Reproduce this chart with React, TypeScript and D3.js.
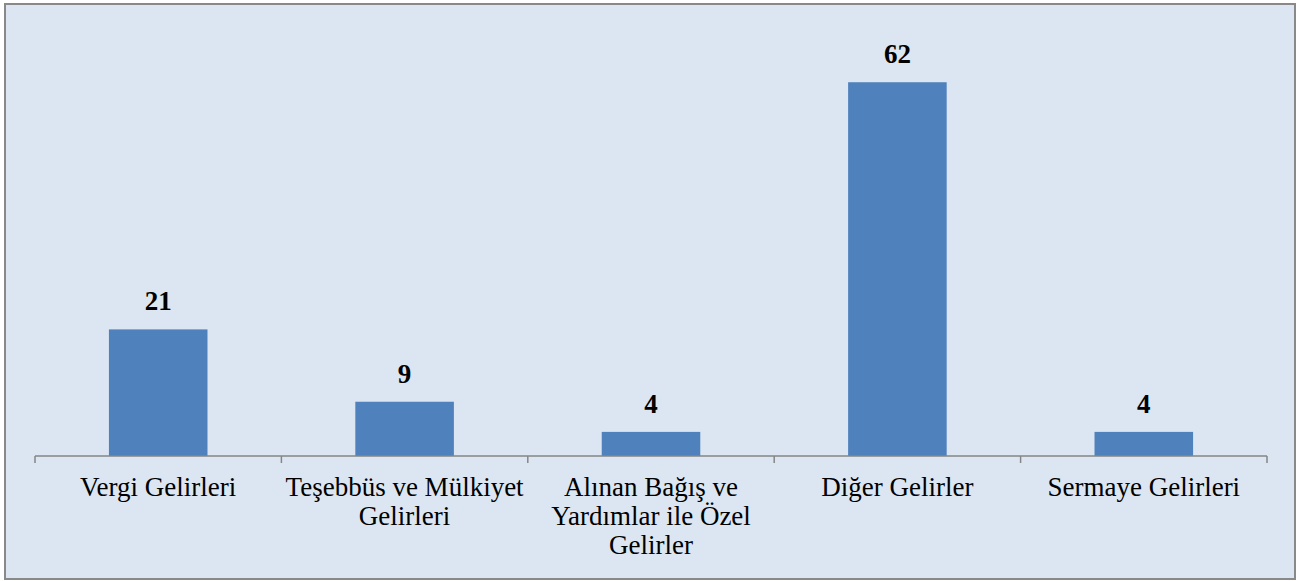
import React from "react";
import * as d3 from "d3";

const categories = [
  "Vergi Gelirleri",
  "Teşebbüs ve Mülkiyet Gelirleri",
  "Alınan Bağış ve Yardımlar ile Özel Gelirler",
  "Diğer Gelirler",
  "Sermaye Gelirleri",
];
const values = [21, 9, 4, 62, 4];

const W = 1297;
const H = 581;
const FONT = "Liberation Serif";
const FS = 27;

const wrapText = (text: string, maxWidth: number) => {
  const ctx = document.createElement("canvas").getContext("2d")!;
  ctx.font = `${FS}px "${FONT}"`;
  const lines: string[] = [];
  let cur = "";
  text.split(" ").forEach((w) => {
    const test = cur ? cur + " " + w : w;
    if (ctx.measureText(test).width > maxWidth && cur) {
      lines.push(cur);
      cur = w;
    } else {
      cur = test;
    }
  });
  if (cur) lines.push(cur);
  return lines;
};

const left = 35;
const right = 1267;
const baseY = 456;

const App = () => {
  const x = d3
    .scaleBand()
    .domain(categories)
    .range([left, right])
    .paddingInner(0.6)
    .paddingOuter(0.3);
  // full-width bands for ticks and label centres
  const xTick = d3.scaleBand().domain(categories).range([left, right]);
  const y = d3.scaleLinear().domain([0, 70]).range([baseY, 34]);

  const tickXs = categories.map((c) => xTick(c)!).concat([right]);

  return (
    <div style={{ position: "absolute", left: 0, top: 0 }}>
      <svg width={W} height={H} style={{ display: "block" }}>
        <rect x={5} y={4} width={1290} height={575} fill="#DCE6F2" stroke="#898989" strokeWidth={2} />
        {values.map((v, i) => (
          <rect
            key={categories[i]}
            x={x(categories[i])}
            y={y(v)}
            width={x.bandwidth()}
            height={baseY - y(v)}
            fill="#4F81BD"
          />
        ))}
        <line x1={left} x2={right} y1={baseY} y2={baseY} stroke="#868686" strokeWidth={1.5} />
        {tickXs.map((t) => (
          <line key={t} x1={t} x2={t} y1={baseY} y2={baseY + 7} stroke="#868686" strokeWidth={1.5} />
        ))}
        {values.map((v, i) => (
          <text
            key={"v" + i}
            x={x(categories[i])! + x.bandwidth() / 2}
            y={y(v) - 19}
            textAnchor="middle"
            style={{ fontFamily: FONT, fontSize: FS, fontWeight: "bold" }}
            fill="#000"
          >
            {v}
          </text>
        ))}
        {categories.map((c) => {
          const cx = xTick(c)! + xTick.bandwidth() / 2;
          const lines = wrapText(c, 244);
          return (
            <text key={c} x={cx} y={496} textAnchor="middle" style={{ fontFamily: FONT, fontSize: FS }} fill="#000">
              {lines.map((l, i) => (
                <tspan key={i} x={cx} dy={i === 0 ? 0 : 29}>
                  {l}
                </tspan>
              ))}
            </text>
          );
        })}
      </svg>
    </div>
  );
};

export default App;
